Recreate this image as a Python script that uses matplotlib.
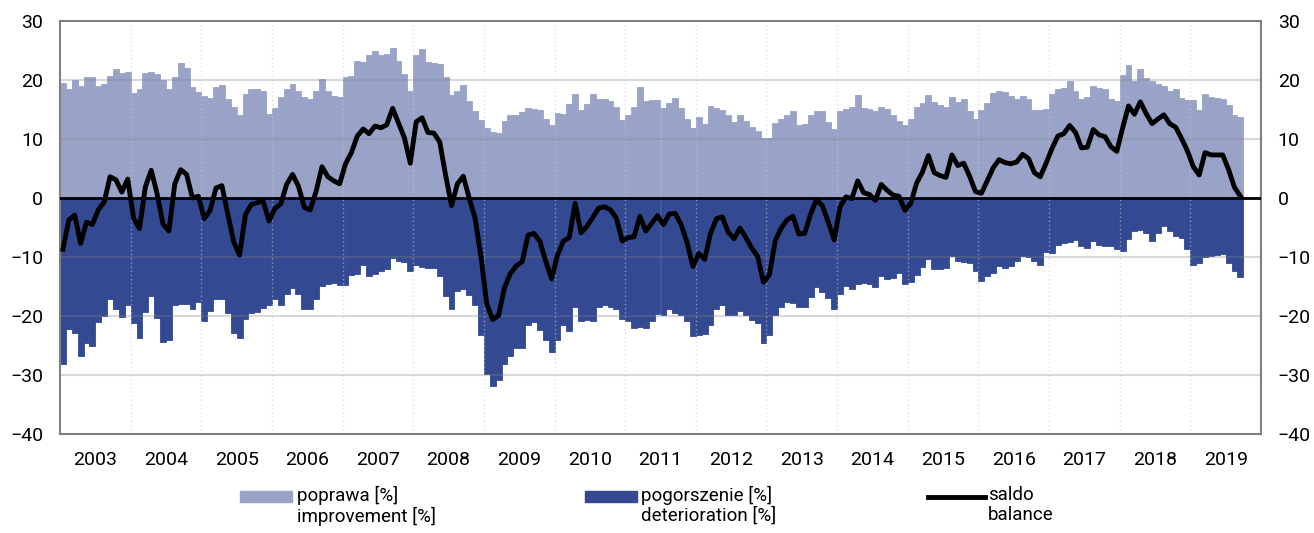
import matplotlib
matplotlib.use("Agg")
import matplotlib.pyplot as plt
from matplotlib.patches import Rectangle
from matplotlib.lines import Line2D
import numpy as np

plt.rcParams['font.family'] = ['Roboto', 'DejaVu Sans']

# monthly survey results, Jan 2003 - Sep 2019
years = [str(y) for y in range(2003, 2020)]

poprawa = [
    19.5, 18.5, 20, 19, 20.5, 20.5, 19, 19.3, 20.7, 21.9, 21.2, 21.4,
    17.8, 18.5, 21.2, 21.3, 21, 20, 18.5, 20.5, 22.8, 22, 18.8, 18,
    17.3, 17, 18.8, 19.2, 16.8, 15.4, 14, 17.7, 18.4, 18.5, 18.1, 14.2,
    15.3, 17.1, 18.5, 19.3, 18.2, 17.2, 16.8, 18.2, 20.2, 18.1, 17.3, 17.1,
    20.5, 20.7, 23.3, 23, 24.2, 25, 24.2, 24.4, 25.4, 23.3, 21, 18.2,
    24.2, 25.3, 23, 22.9, 22.7, 20.5, 17.5, 18.2, 19.1, 16.4, 14.8, 13.3,
    11.8, 11.2, 11, 13, 14, 14, 14.6, 15.3, 15.1, 15, 13.4, 12.4,
    14.4, 14.3, 15.9, 17.6, 15, 15.9, 17.6, 16.8, 16.7, 16.4, 15.4, 13.2,
    14.1, 15.4, 18.8, 16.4, 16.6, 16.6, 15.3, 16.1, 16.9, 15.3, 13.4, 11.8,
    13.8, 12.6, 15.6, 15.3, 15, 14.1, 12.9, 14.1, 13.1, 12.1, 11.3, 10.2,
    10.2, 12.7, 13.4, 14, 14.7, 12.4, 12.5, 14, 14.7, 14.7, 12.8, 11.7,
    14.7, 15.1, 15.4, 17.5, 15.3, 15.1, 14.7, 15.5, 15.1, 14.1, 13, 12.4,
    13.4, 15.5, 16.1, 17.5, 16.3, 15.8, 15.4, 17.2, 16.2, 16.8, 14.7, 13.4,
    14.9, 16.1, 17.8, 18.1, 17.9, 17.3, 16.8, 17.3, 16.7, 14.9, 14.9, 15.1,
    17.7, 18.4, 18.6, 19.8, 18.2, 16.7, 17.1, 18.9, 18.6, 18.5, 16.8, 16.5,
    20.9, 22.5, 19.8, 21.8, 20.3, 19.9, 19.3, 18.9, 18.2, 18.5, 16.9, 16.6,
    16.6, 14.9, 17.7, 17.1, 16.9, 16.8, 15.8, 14.1, 13.7,
]

pogorszenie = [
    -28.2, -22.2, -22.9, -26.7, -24.6, -25, -21, -20, -17.1, -18.8, -20.2, -18.2,
    -21.2, -23.7, -19.3, -16.6, -20.3, -24.4, -24.1, -18.1, -18, -18, -18.8, -17.7,
    -20.8, -19.1, -17.1, -17.1, -19.5, -22.8, -23.7, -20.5, -19.5, -19.3, -18.6, -18.1,
    -17.1, -18.1, -16.2, -15.3, -16.2, -18.8, -18.8, -17.1, -14.9, -14.5, -14.4, -14.7,
    -14.7, -13, -12.8, -11.3, -13.3, -12.8, -12.3, -12, -10.2, -10.6, -10.8, -12.3,
    -11.3, -11.7, -11.9, -11.9, -13.2, -16.6, -18.8, -15.8, -15.4, -16.4, -18.2, -23.2,
    -29.8, -31.8, -30.9, -28.2, -26.8, -25.5, -25.4, -21.6, -21.1, -22.3, -24.1, -26.1,
    -24.1, -21.6, -22.6, -18.5, -20.9, -20.7, -20.9, -18.5, -18.2, -18.4, -18.8, -20.5,
    -20.8, -22, -21.9, -22, -20.9, -19.6, -19.8, -18.8, -19.5, -19.8, -20.9, -23.4,
    -23.2, -23, -21.6, -18.8, -18.2, -19.9, -19.8, -19.2, -19.8, -20.6, -21.2, -24.5,
    -23.2, -19.9, -18.5, -17.7, -17.8, -18.5, -18.5, -16.7, -15, -16, -16.9, -18.8,
    -16.2, -14.9, -15.5, -14.6, -14.4, -14.5, -15.1, -13.2, -13.8, -13.6, -12.7, -14.5,
    -14.3, -13, -11.7, -10.3, -12, -12, -11.9, -9.9, -10.7, -10.9, -11, -12.3,
    -14.1, -13.2, -12.7, -11.6, -11.9, -11.5, -10.7, -9.9, -10, -10.6, -11.3, -9.2,
    -9.3, -7.9, -7.7, -7.5, -7.1, -8.2, -8.5, -7.3, -7.9, -8.1, -8.1, -8.6,
    -9, -6.9, -5.6, -5.5, -6, -7.3, -5.9, -4.8, -5.6, -6.5, -6.8, -8.6,
    -11.3, -11, -10, -9.8, -9.6, -9.5, -11, -12.3, -13.4,
]

# balance = improvement minus deterioration
saldo = np.array(poprawa) + np.array(pogorszenie)

light = '#99a3c7'
dark = '#334a93'

W, H = 1314, 533
fig = plt.figure(figsize=(W / 100, H / 100), dpi=100)
ax = fig.add_axes([60 / W, 1 - 434 / H, 1201 / W, 413 / H])

x = np.arange(len(poprawa))
ax.bar(x, poprawa, width=1.0, align='edge', color=light, edgecolor=light,
       linewidth=0.6, zorder=1)
ax.bar(x, pogorszenie, width=1.0, align='edge', color=dark, edgecolor=dark,
       linewidth=0.6, zorder=1)

# grid on top of the bars
for v in range(-30, 30, 10):
    if v != 0:
        ax.axhline(v, color='#808080', alpha=0.3, lw=1.5, zorder=2)
for k in range(1, len(years)):
    ax.axvline(k * 12, color='#c8c8c8', lw=1, ls=(0, (1, 2)), alpha=0.6, zorder=2)

ax.axhline(0, color='black', lw=2, zorder=3)
ax.plot(x + 0.5, saldo, color='black', lw=3.5, zorder=4, solid_joinstyle='round')

ax.set_xlim(0, len(years) * 12)
ax.set_ylim(-40, 30)
ax.set_yticks(range(-40, 31, 10))
ax.set_xticks([k * 12 + 6 for k in range(len(years))])
ax.set_xticklabels(years)
ax.tick_params(axis='x', length=0, pad=12, labelsize=14)
ax.tick_params(axis='y', length=0, pad=12, labelsize=14, labelright=True)
for s in ax.spines.values():
    s.set_color('#808080')
    s.set_linewidth(1.5)

# legend below the chart, handle level with the first text line
def fx(px):
    return px / W

def fy(py):
    return 1 - py / H

fs = 13.5
ls = 1.12
fig.patches.append(Rectangle((fx(240), fy(502)), fx(52), 11 / H, color=light,
                             transform=fig.transFigure, figure=fig))
fig.text(fx(297), fy(486), 'poprawa [%]\nimprovement [%]', fontsize=fs,
         va='top', ha='left', linespacing=ls)
fig.patches.append(Rectangle((fx(585), fy(502)), fx(52), 11 / H, color=dark,
                             transform=fig.transFigure, figure=fig))
fig.text(fx(641), fy(486), 'pogorszenie [%]\ndeterioration [%]', fontsize=fs,
         va='top', ha='left', linespacing=ls)
fig.lines.append(Line2D([fx(928), fx(985)], [fy(496.5), fy(496.5)], color='black',
                        lw=3.5, transform=fig.transFigure, figure=fig))
fig.text(fx(988), fy(486), 'saldo\nbalance', fontsize=fs,
         va='top', ha='left', linespacing=ls)

fig.savefig('out.png', dpi=100)
